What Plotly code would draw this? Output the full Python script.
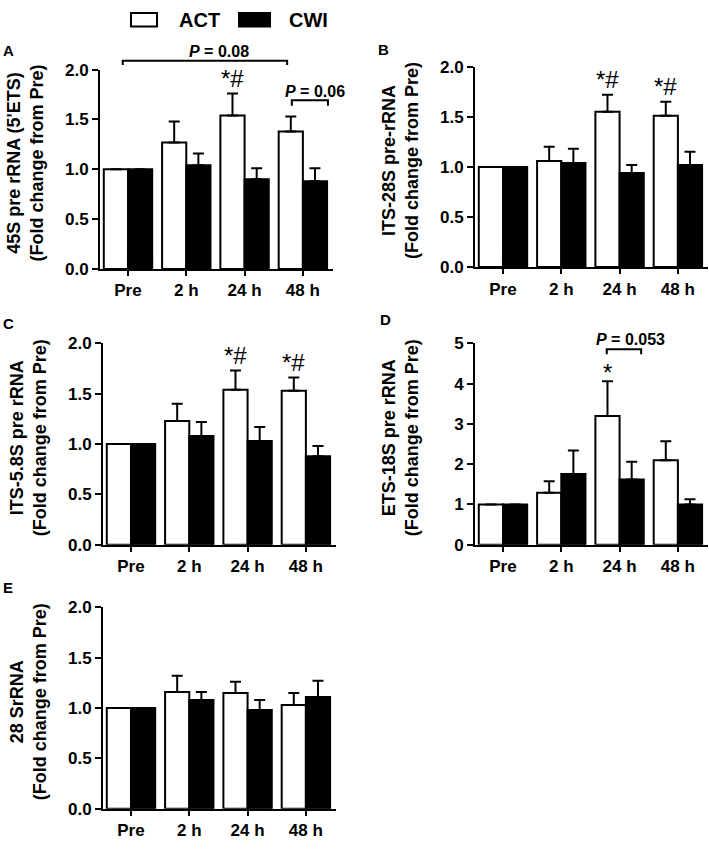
import plotly.graph_objects as go

W, H = 709, 852
FONT = "Liberation Sans, Arial, Helvetica, sans-serif"

categories = ["Pre", "2 h", "24 h", "48 h"]
series_names = ["ACT", "CWI"]

# ---- data (mean and upper SEM, fold change from Pre) ----
a_title = "45S pre rRNA (5'ETS)"
a_act = [1.00, 1.27, 1.54, 1.38]
a_act_err = [0.0, 0.21, 0.22, 0.15]
a_cwi = [1.00, 1.04, 0.90, 0.88]
a_cwi_err = [0.0, 0.12, 0.11, 0.13]

b_title = "ITS-28S pre-rRNA"
b_act = [1.00, 1.06, 1.55, 1.51]
b_act_err = [0.0, 0.14, 0.17, 0.14]
b_cwi = [1.00, 1.04, 0.94, 1.02]
b_cwi_err = [0.0, 0.14, 0.08, 0.13]

c_title = "ITS-5.8S pre rRNA"
c_act = [1.00, 1.23, 1.54, 1.53]
c_act_err = [0.0, 0.17, 0.19, 0.13]
c_cwi = [1.00, 1.08, 1.03, 0.88]
c_cwi_err = [0.0, 0.14, 0.14, 0.10]

d_title = "ETS-18S pre rRNA"
d_act = [1.00, 1.29, 3.20, 2.10]
d_act_err = [0.0, 0.29, 0.86, 0.47]
d_cwi = [1.00, 1.76, 1.62, 1.00]
d_cwi_err = [0.0, 0.58, 0.44, 0.13]

e_title = "28 SrRNA"
e_act = [1.00, 1.16, 1.15, 1.03]
e_act_err = [0.0, 0.16, 0.11, 0.12]
e_cwi = [1.00, 1.08, 0.98, 1.11]
e_cwi_err = [0.0, 0.08, 0.10, 0.16]

y_subtitle = "(Fold change from Pre)"

# significance marks above ACT bars: (category index, text)
a_marks = [(2, "*#")]
b_marks = [(2, "*#"), (3, "*#")]
c_marks = [(2, "*#"), (3, "*#")]
d_marks = [(2, "*")]
e_marks = []

# p-value brackets: (x_left, x_right, y_bar, y_tick_end, label_x, label_y, label)
a_brackets = [(-0.09, 2.73, 2.088, 2.046, 1.56, 2.186, "0.08"),
              (2.81, 3.43, 1.693, 1.637, 3.21, 1.784, "0.06")]
d_brackets = [(1.78, 2.37, 4.854, 4.733, 2.18, 5.097, "0.053")]

# ---- layout geometry (pixels) ----
panels = [
    dict(letter="A", title=a_title, act=a_act, act_err=a_act_err, cwi=a_cwi, cwi_err=a_cwi_err,
         x0=100, y_top=62, y_bot=266, yr=[0, 2], dtick=0.5, fmt=".1f", marks=a_marks,
         brackets=a_brackets, letter_xy=(8, 42)),
    dict(letter="B", title=b_title, act=b_act, act_err=b_act_err, cwi=b_cwi, cwi_err=b_cwi_err,
         x0=475, y_top=59, y_bot=264, yr=[0, 2], dtick=0.5, fmt=".1f", marks=b_marks,
         brackets=[], letter_xy=(383, 41)),
    dict(letter="C", title=c_title, act=c_act, act_err=c_act_err, cwi=c_cwi, cwi_err=c_cwi_err,
         x0=103, y_top=342, y_bot=548, yr=[0, 2], dtick=0.5, fmt=".1f", marks=c_marks,
         brackets=[], letter_xy=(8, 322)),
    dict(letter="D", title=d_title, act=d_act, act_err=d_act_err, cwi=d_cwi, cwi_err=d_cwi_err,
         x0=475, y_top=342, y_bot=548, yr=[0, 5], dtick=1, fmt="d", marks=d_marks,
         brackets=d_brackets, letter_xy=(385, 318)),
    dict(letter="E", title=e_title, act=e_act, act_err=e_act_err, cwi=e_cwi, cwi_err=e_cwi_err,
         x0=103, y_top=612, y_bot=818, yr=[0, 2], dtick=0.5, fmt=".1f", marks=e_marks,
         brackets=[], letter_xy=(8, 592)),
]

CAT_PX = 58.3
XR = [-0.48, 3.52]
BW = 0.415  # bar width in category units
xs = list(range(len(categories)))

fig = go.Figure()
layout = dict(
    width=W, height=H, margin=dict(l=0, r=0, t=0, b=0),
    paper_bgcolor="white", plot_bgcolor="white", showlegend=False,
    barmode="overlay", font=dict(family=FONT, color="black"),
)
annotations = []
shapes = []


def px2fx(px):
    return min(1.0, max(0.0, px / W))


def px2fy(py):
    return min(1.0, max(0.0, 1 - py / H))


for i, p in enumerate(panels, start=1):
    xa = "x" if i == 1 else f"x{i}"
    ya = "y" if i == 1 else f"y{i}"
    xkey = "xaxis" if i == 1 else f"xaxis{i}"
    ykey = "yaxis" if i == 1 else f"yaxis{i}"
    x1 = p["x0"] + CAT_PX * (XR[1] - XR[0])

    err_common = dict(type="data", symmetric=False, color="black", thickness=2, width=5.5)
    fig.add_trace(go.Bar(
        x=xs, y=p["act"], name=series_names[0], xaxis=xa, yaxis=ya,
        width=BW, offset=-BW,
        marker=dict(color="white", line=dict(color="black", width=2)),
        error_y=dict(array=p["act_err"], arrayminus=[0] * 4, **err_common),
    ))
    fig.add_trace(go.Bar(
        x=xs, y=p["cwi"], name=series_names[1], xaxis=xa, yaxis=ya,
        width=BW, offset=0,
        marker=dict(color="black", line=dict(color="black", width=2)),
        error_y=dict(array=p["cwi_err"], arrayminus=[0] * 4, **err_common),
    ))

    layout[xkey] = dict(
        domain=[px2fx(p["x0"]), px2fx(x1)], range=XR, anchor=ya,
        tickvals=xs, ticktext=categories, showline=True, linewidth=2, linecolor="black",
        ticks="outside", ticklen=5, tickwidth=2, tickcolor="black",
        tickfont=dict(family=FONT, size=17, weight="bold", color="black"),
        showgrid=False, zeroline=False, fixedrange=True,
    )
    layout[ykey] = dict(
        domain=[px2fy(p["y_bot"]), px2fy(p["y_top"])], range=p["yr"], anchor=xa,
        dtick=p["dtick"], tick0=0, tickformat=p["fmt"], showline=True, linewidth=2,
        linecolor="black", ticks="outside", ticklen=6, tickwidth=2, tickcolor="black",
        tickfont=dict(family=FONT, size=17, weight="bold", color="black"),
        showgrid=False, zeroline=False, fixedrange=True,
    )

    # y-axis title (two lines)
    ymid = (p["y_top"] + p["y_bot"]) / 2 - 6
    annotations.append(dict(
        xref="paper", yref="paper", x=px2fx(p["x0"] - 75), y=px2fy(ymid),
        text=f"{p['title']}<br>{y_subtitle}", textangle=-90, showarrow=False,
        xanchor="center", yanchor="middle",
        font=dict(family=FONT, size=18, weight="bold", color="black"),
    ))
    # panel letter
    lx, ly = p["letter_xy"]
    annotations.append(dict(
        xref="paper", yref="paper", x=px2fx(lx), y=px2fy(ly), text=p["letter"],
        showarrow=False, xanchor="center", yanchor="middle",
        font=dict(family=FONT, size=15, weight="bold", color="black"),
    ))
    # significance marks
    for idx, txt in p["marks"]:
        annotations.append(dict(
            xref=xa, yref=ya, x=idx - BW / 2, y=p["act"][idx] + p["act_err"][idx],
            text=txt, showarrow=False, xanchor="center", yanchor="bottom",
            yshift=0 if txt == "*#" else -7,
            font=dict(family=FONT, size=24, color="black"),
        ))

    # p-value brackets (relative to the axis domain so they can sit above the range)
    def fx(v):
        return (v - XR[0]) / (XR[1] - XR[0])

    def fy(v, yr=p["yr"]):
        return (v - yr[0]) / (yr[1] - yr[0])

    for (bl, br, yb, yt, lxv, lyv, lab) in p["brackets"]:
        path = (f"M {fx(bl)} {fy(yt)} L {fx(bl)} {fy(yb)} L {fx(br)} {fy(yb)} "
                f"L {fx(br)} {fy(yt)}")
        shapes.append(dict(type="path", xref=f"{xa} domain", yref=f"{ya} domain",
                           path=path, line=dict(color="black", width=2)))
        annotations.append(dict(
            xref=f"{xa} domain", yref=f"{ya} domain", x=fx(lxv), y=fy(lyv),
            text=f"<i>P</i> = {lab}", showarrow=False,
            xanchor="center", yanchor="middle",
            font=dict(family=FONT, size=16, weight="bold", color="black"),
        ))

# legend (drawn manually at top)
legend_items = [(131, 157, "white", 177, series_names[0]), (239, 270, "black", 287, series_names[1])]
for (bx0, bx1, col, tx, lab) in legend_items:
    shapes.append(dict(type="rect", xref="paper", yref="paper",
                       x0=px2fx(bx0), x1=px2fx(bx1), y0=px2fy(18), y1=px2fy(4),
                       fillcolor=col, line=dict(color="black", width=2)))
    annotations.append(dict(
        xref="paper", yref="paper", x=px2fx(tx), y=px2fy(11), text=lab, showarrow=False,
        xanchor="left", yanchor="middle",
        font=dict(family=FONT, size=20, weight="bold", color="black"),
    ))

layout["annotations"] = annotations
layout["shapes"] = shapes
fig.update_layout(**layout)
fig.write_html("out.html", post_script="document.body.style.margin='0';",
               config={"displayModeBar": False})
